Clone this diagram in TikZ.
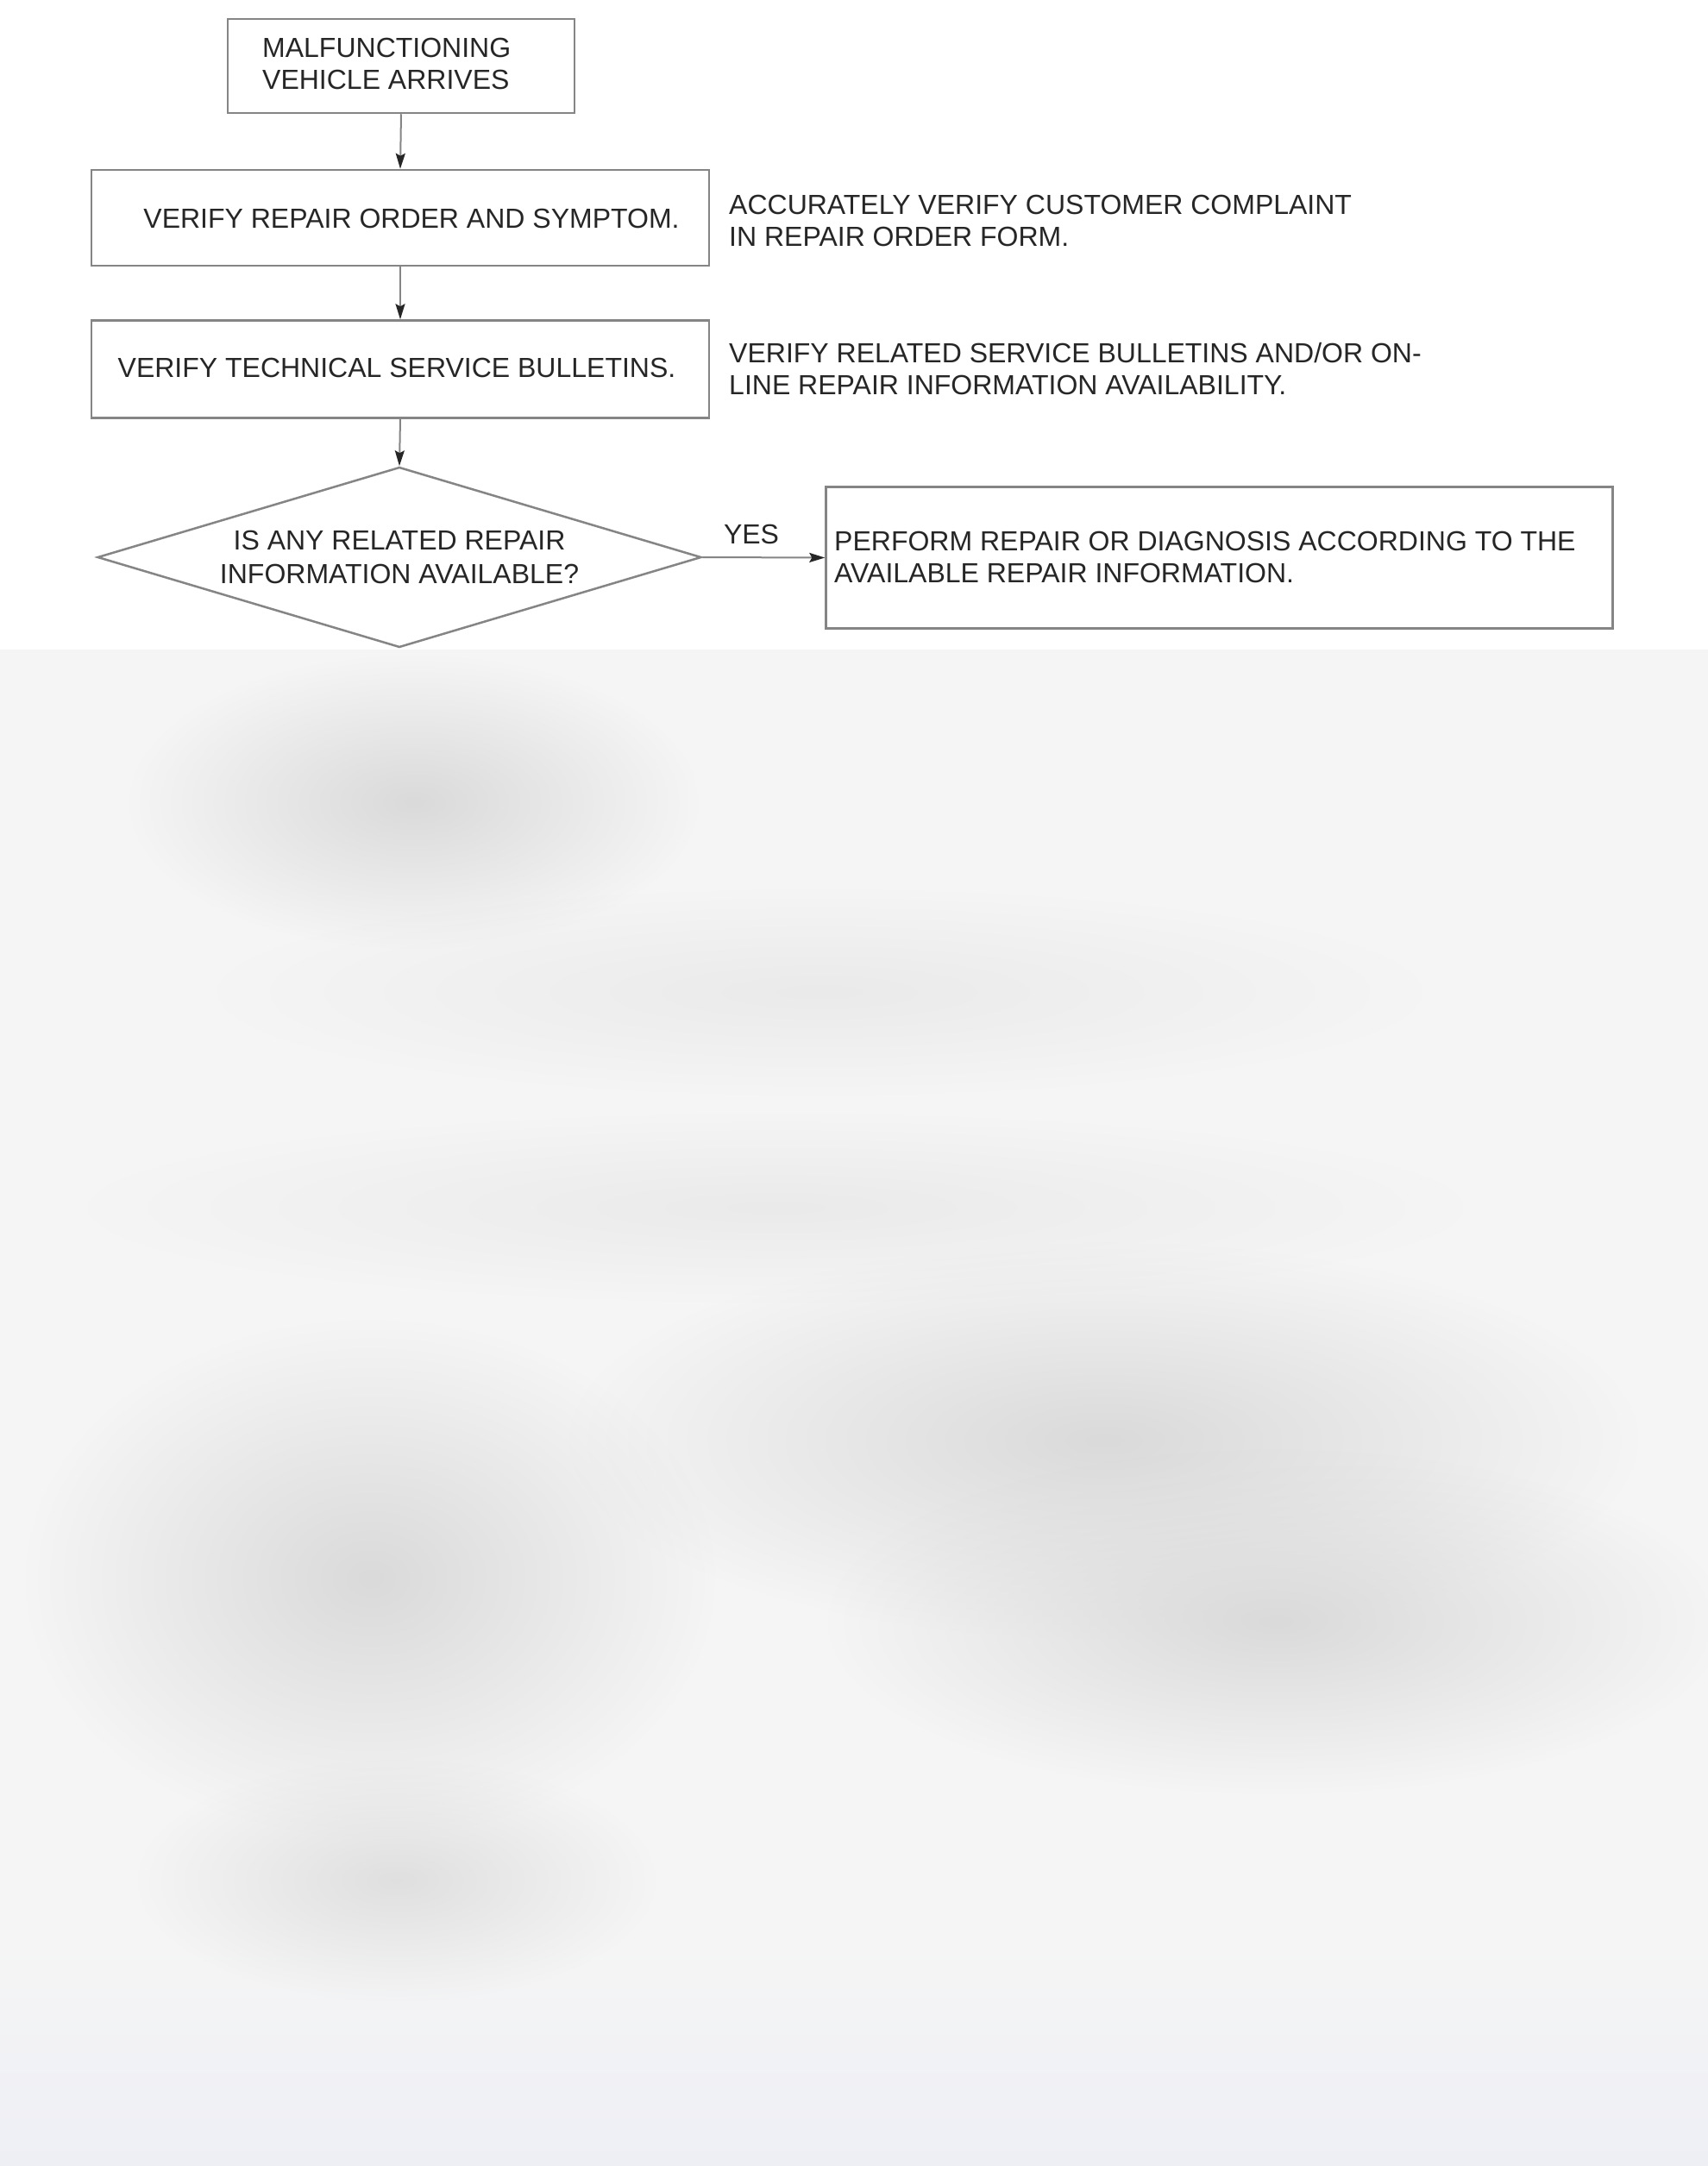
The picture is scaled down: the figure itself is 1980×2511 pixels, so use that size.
\documentclass[tikz,border=0pt]{standalone}
\usepackage{fontspec}
\setmainfont{Liberation Sans}
\usetikzlibrary{arrows.meta,shapes.geometric,fadings}
\definecolor{linegray}{HTML}{858585}
\definecolor{textdark}{HTML}{262626}
\definecolor{bggray}{HTML}{F5F5F5}
\definecolor{blotch}{HTML}{DADADA}
\definecolor{bluish}{HTML}{EEEFF5}
\tikzfading[name=softblob, inner color=transparent!0, outer color=transparent!100]
\begin{document}
\begin{tikzpicture}[x=1pt,y=-1pt,
  box/.style={draw=linegray, line width=2.5pt, rectangle, inner sep=0pt},
  dia/.style={draw=linegray, line width=2.5pt, diamond, inner sep=0pt, shape aspect=3.35,
     minimum width=700pt, minimum height=209pt, align=center,
     font=\fontsize{32}{39}\selectfont, text=textdark},
  txt/.style={font=\fontsize{32}{37}\selectfont, text=textdark, align=left, inner sep=0pt},
  arr/.style={-{Stealth[length=18pt,width=11pt,inset=3pt,color=textdark,fill=textdark]}, line width=2pt, draw=linegray},
  blob/.style={fill=blotch, path fading=softblob}]
\useasboundingbox (0,0) rectangle (1980,2511);
\fill[white] (0,0) rectangle (1980,2511);
% blurred lower area
\fill[bggray] (0,753) rectangle (1980,2511);
\begin{scope}
\clip (0,753) rectangle (1980,2511);
\shade[top color=bggray, bottom color=bluish] (0,2250) rectangle (1980,2511);
\fill[blob] (480,930) ellipse (330 and 170);
\fill[blob] (1280,1670) ellipse (620 and 230);
\fill[blob] (1480,1880) ellipse (520 and 200);
\fill[blob] (430,1830) ellipse (400 and 300);
\fill[blob, fill opacity=0.8] (460,2180) ellipse (300 and 140);
\fill[blob, fill opacity=0.4] (950,1150) ellipse (700 and 120);
\fill[blob, fill opacity=0.4] (900,1400) ellipse (800 and 110);
\end{scope}

% nodes
\node[box, minimum width=402pt, minimum height=109pt] (start) at (465,76.5) {};
\node[txt, anchor=west] (starttxt) at (304,74) {MALFUNCTIONING\\VEHICLE ARRIVES};

\node[box, minimum width=716pt, minimum height=111pt] (ro) at (464,252.5) {};
\node[txt, anchor=center] (rotxt) at (477,253) {VERIFY REPAIR ORDER AND SYMPTOM.};
\node[txt, anchor=west] (rnote) at (845,256) {ACCURATELY VERIFY CUSTOMER COMPLAINT\\IN REPAIR ORDER FORM.};

\node[box, minimum width=716pt, minimum height=113pt] (tsb) at (464,428) {};
\node[txt, anchor=center] (tsbtxt) at (460,426) {VERIFY TECHNICAL SERVICE BULLETINS.};
\node[txt, anchor=west] (tnote) at (845,428) {VERIFY RELATED SERVICE BULLETINS AND/OR ON-\\LINE REPAIR INFORMATION AVAILABILITY.};

\node[dia] (q) at (463,646) {IS ANY RELATED REPAIR\\INFORMATION AVAILABLE?};

\node[box, minimum width=912pt, minimum height=164pt] (perf) at (1413.5,646.5) {};
\node[txt, anchor=west] (perftxt) at (967,646) {PERFORM REPAIR OR DIAGNOSIS ACCORDING TO THE\\AVAILABLE REPAIR INFORMATION.};

% connectors
\draw[arr] (start.south) -- (ro.north);
\draw[arr] (ro.south) -- (tsb.north);
\draw[arr] (tsb.south) -- (q.north);
\draw[arr] (q.east) -- node[txt, above=14pt, pos=0.4] (yes) {YES} (perf.west);
\end{tikzpicture}
\end{document}
